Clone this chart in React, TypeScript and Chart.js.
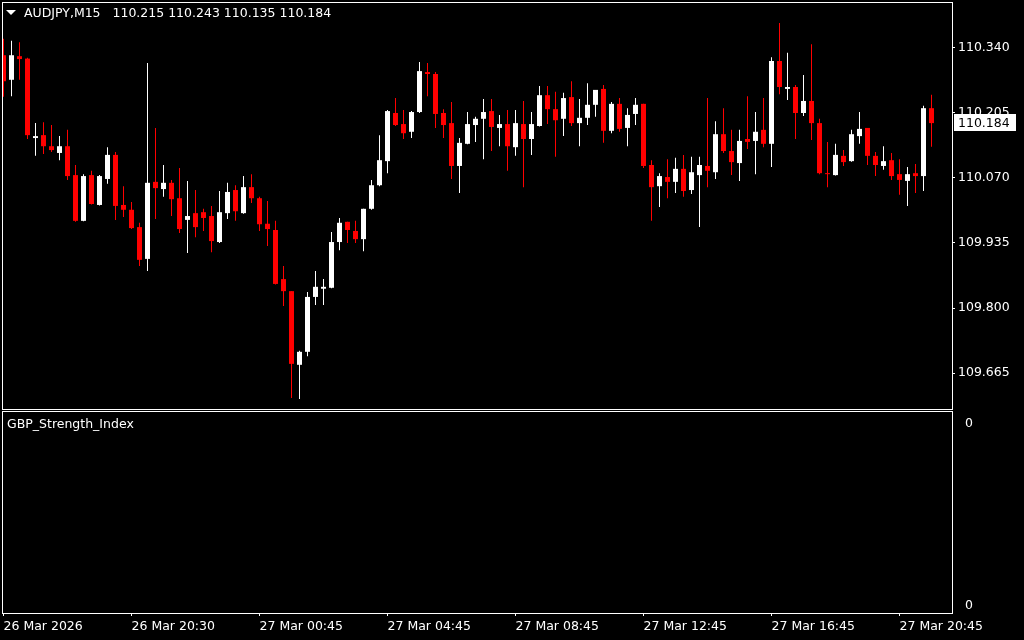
import React, { useEffect, useRef } from "react";
import { Chart, registerables } from "chart.js";

Chart.register(...registerables);

const symbolTitle = "AUDJPY,M15";
const indicatorName = "GBP_Strength_Index";

const opens = [
  110.325, 110.274, 110.323, 110.318, 110.153, 110.159, 110.136, 110.122, 110.136, 110.076,
  109.981, 110.076, 110.014, 110.068, 110.118, 110.014, 110.004, 109.968, 109.902, 110.062,
  110.047, 110.060, 110.028, 109.983, 109.997, 109.999, 109.991, 109.937, 109.997, 110.045,
  109.997, 110.051, 110.028, 109.975, 109.962, 109.860, 109.835, 109.682, 109.709, 109.823,
  109.840, 109.842, 109.937, 109.979, 109.960, 109.943, 110.006, 110.055, 110.105, 110.205,
  110.182, 110.166, 110.207, 110.290, 110.286, 110.205, 110.184, 110.095, 110.141, 110.180,
  110.193, 110.209, 110.174, 110.182, 110.134, 110.182, 110.151, 110.178, 110.242, 110.213,
  110.193, 110.238, 110.184, 110.195, 110.222, 110.255, 110.168, 110.224, 110.174, 110.203,
  110.224, 110.097, 110.053, 110.072, 110.062, 110.089, 110.045, 110.076, 110.095, 110.082,
  110.161, 110.126, 110.101, 110.151, 110.147, 110.170, 110.141, 110.313, 110.255, 110.259,
  110.205, 110.230, 110.184, 110.080, 110.076, 110.116, 110.105, 110.157, 110.174, 110.116,
  110.095, 110.107, 110.078, 110.064, 110.080, 110.074, 110.215,
];

const highs = [
  110.359, 110.355, 110.352, 110.320, 110.184, 110.186, 110.180, 110.157, 110.170, 110.097,
  110.078, 110.085, 110.076, 110.134, 110.124, 110.053, 110.020, 109.977, 110.309, 110.174,
  110.097, 110.066, 110.091, 110.064, 110.045, 110.006, 110.012, 110.043, 110.060, 110.055,
  110.074, 110.078, 110.031, 110.022, 109.981, 109.887, 109.835, 109.711, 109.833, 109.877,
  109.860, 109.958, 109.987, 109.979, 109.981, 110.006, 110.066, 110.159, 110.211, 110.236,
  110.211, 110.209, 110.311, 110.309, 110.290, 110.213, 110.228, 110.153, 110.207, 110.197,
  110.234, 110.234, 110.201, 110.211, 110.211, 110.230, 110.207, 110.261, 110.261, 110.249,
  110.247, 110.271, 110.234, 110.267, 110.253, 110.263, 110.228, 110.236, 110.215, 110.236,
  110.224, 110.107, 110.080, 110.109, 110.112, 110.118, 110.114, 110.114, 110.236, 110.188,
  110.215, 110.170, 110.170, 110.240, 110.207, 110.236, 110.321, 110.392, 110.330, 110.263,
  110.284, 110.348, 110.193, 110.145, 110.141, 110.128, 110.170, 110.207, 110.174, 110.124,
  110.136, 110.122, 110.109, 110.093, 110.099, 110.220, 110.243,
];

const lows = [
  110.239, 110.240, 110.274, 110.151, 110.116, 110.120, 110.124, 110.107, 110.066, 109.979,
  109.980, 110.015, 110.013, 110.058, 109.983, 109.989, 109.964, 109.887, 109.877, 109.985,
  110.031, 109.991, 109.956, 109.914, 109.947, 109.960, 109.916, 109.935, 109.985, 109.981,
  109.996, 110.018, 109.960, 109.929, 109.849, 109.804, 109.613, 109.611, 109.700, 109.806,
  109.806, 109.841, 109.920, 109.935, 109.935, 109.918, 110.004, 110.053, 110.080, 110.178,
  110.151, 110.153, 110.205, 110.240, 110.174, 110.153, 110.068, 110.039, 110.140, 110.145,
  110.109, 110.126, 110.136, 110.085, 110.116, 110.051, 110.118, 110.177, 110.182, 110.114,
  110.157, 110.178, 110.136, 110.180, 110.197, 110.143, 110.163, 110.166, 110.136, 110.180,
  110.091, 109.981, 110.010, 110.028, 110.039, 110.031, 110.037, 109.968, 110.051, 110.068,
  110.122, 110.076, 110.064, 110.130, 110.078, 110.134, 110.093, 110.244, 110.232, 110.151,
  110.199, 110.149, 110.078, 110.051, 110.075, 110.095, 110.104, 110.141, 110.097, 110.074,
  110.087, 110.066, 110.035, 110.012, 110.039, 110.043, 110.135,
];

const closes = [
  110.271, 110.325, 110.317, 110.159, 110.157, 110.136, 110.128, 110.136, 110.074, 109.981,
  110.074, 110.016, 110.074, 110.118, 110.012, 110.004, 109.966, 109.900, 110.060, 110.049,
  110.060, 110.026, 109.964, 109.991, 109.968, 109.987, 109.939, 109.999, 110.041, 110.001,
  110.051, 110.028, 109.974, 109.964, 109.850, 109.835, 109.684, 109.709, 109.823, 109.844,
  109.844, 109.937, 109.977, 109.962, 109.943, 110.006, 110.055, 110.107, 110.209, 110.180,
  110.163, 110.207, 110.292, 110.286, 110.203, 110.180, 110.095, 110.143, 110.182, 110.193,
  110.207, 110.176, 110.182, 110.136, 110.184, 110.151, 110.182, 110.242, 110.213, 110.190,
  110.236, 110.184, 110.195, 110.222, 110.253, 110.168, 110.224, 110.172, 110.201, 110.222,
  110.095, 110.051, 110.074, 110.062, 110.089, 110.043, 110.082, 110.097, 110.085, 110.161,
  110.126, 110.103, 110.147, 110.145, 110.166, 110.141, 110.313, 110.259, 110.259, 110.205,
  110.230, 110.184, 110.080, 110.078, 110.118, 110.103, 110.161, 110.172, 110.116, 110.097,
  110.105, 110.074, 110.066, 110.078, 110.074, 110.215, 110.184,
];

const priceTicks = [110.34, 110.205, 110.07, 109.935, 109.8, 109.665];
const timeTickIndex = [0, 16, 32, 48, 64, 80, 96, 112];
const timeTickLabels = [
  "26 Mar 2026",
  "26 Mar 20:30",
  "27 Mar 00:45",
  "27 Mar 04:45",
  "27 Mar 08:45",
  "27 Mar 12:45",
  "27 Mar 16:45",
  "27 Mar 20:45",
];
const indicatorTickLabels = ["0", "0"];

// view / style settings
const BULL = "#ffffff";
const BEAR = "#ff0000";
const FONT_FAMILY = '"DejaVu Sans", Verdana, sans-serif';
const FONT_SIZE = 12.5;
const X_MIN = -0.1875;
const X_MAX = 118.5625;
const Y_MIN = 109.590231;
const Y_MAX = 110.435538;
const SUB_TICK_POS = [0.9356, 0.0347];

const framePlugin = {
  id: "frame",
  afterDraw(chart: any) {
    const { ctx, chartArea: a } = chart;
    ctx.save();
    ctx.strokeStyle = "#ffffff";
    ctx.lineWidth = 1;
    ctx.strokeRect(a.left + 0.5, a.top + 0.5, a.right - a.left, a.bottom - a.top);
    ctx.restore();
  },
};

const lastPricePlugin = {
  id: "lastPrice",
  afterDraw(chart: any) {
    const { ctx } = chart;
    const last = closes[closes.length - 1];
    const y = Math.round(chart.scales.y.getPixelForValue(last));
    const x0 = chart.chartArea.right + 2;
    ctx.save();
    ctx.fillStyle = "#ffffff";
    ctx.fillRect(x0, y - 9, 62, 17);
    ctx.fillStyle = "#000000";
    ctx.font = `${FONT_SIZE}px ${FONT_FAMILY}`;
    ctx.textBaseline = "middle";
    ctx.textAlign = "left";
    ctx.fillText(last.toFixed(3), x0 + 4, y + 0.5);
    ctx.restore();
  },
};

export default function App() {
  const mainRef = useRef<HTMLCanvasElement>(null);
  const subRef = useRef<HTMLCanvasElement>(null);

  useEffect(() => {
    const idx = closes.map((_, i) => i);
    const colors = idx.map((i) => (closes[i] >= opens[i] ? BULL : BEAR));
    const font = { family: FONT_FAMILY, size: FONT_SIZE };

    const main = new Chart(mainRef.current as HTMLCanvasElement, {
      type: "bar",
      data: {
        datasets: [
          {
            label: "wick",
            data: idx.map((i) => ({ x: i, y: [lows[i], highs[i]] })) as any,
            backgroundColor: colors,
            barThickness: 1,
            grouped: false,
            inflateAmount: 0,
            borderWidth: 0,
            order: 2,
            clip: 0,
          } as any,
          {
            label: "body",
            data: idx.map((i) => ({ x: i, y: [opens[i], closes[i]] })) as any,
            backgroundColor: colors,
            barThickness: 5,
            minBarLength: 1,
            grouped: false,
            inflateAmount: 0,
            borderWidth: 0,
            order: 1,
            clip: 0,
          } as any,
        ],
      },
      options: {
        animation: false,
        responsive: false,
        maintainAspectRatio: false,
        devicePixelRatio: 1,
        layout: { padding: { left: 2, top: 2, right: 0, bottom: 2 } },
        plugins: { legend: { display: false }, tooltip: { enabled: false } },
        scales: {
          x: {
            type: "linear",
            display: false,
            min: X_MIN,
            max: X_MAX,
            offset: false,
          },
          y: {
            type: "linear",
            position: "right",
            min: Y_MIN,
            max: Y_MAX,
            beginAtZero: false,
            afterBuildTicks: (s: any) => {
              s.ticks = priceTicks.map((v) => ({ value: v }));
            },
            afterFit: (s: any) => {
              s.width = 72;
              s.paddingTop = 0;
              s.paddingBottom = 0;
            },
            grid: { drawOnChartArea: false, drawTicks: true, tickLength: 3, color: "#ffffff" },
            border: { display: false },
            ticks: {
              color: "#ffffff",
              font,
              padding: 3,
              autoSkip: false,
              callback: (v: any) => Number(v).toFixed(3),
            },
          },
        } as any,
      },
      plugins: [framePlugin, lastPricePlugin],
    });

    const sub = new Chart(subRef.current as HTMLCanvasElement, {
      type: "line",
      data: { datasets: [{ label: indicatorName, data: [], borderColor: "#ffffff" }] },
      options: {
        animation: false,
        responsive: false,
        maintainAspectRatio: false,
        devicePixelRatio: 1,
        layout: { padding: { left: 2, top: 0, right: 0, bottom: 0 } },
        plugins: { legend: { display: false }, tooltip: { enabled: false } },
        scales: {
          x: {
            type: "linear",
            position: "bottom",
            min: X_MIN,
            max: X_MAX,
            offset: false,
            afterBuildTicks: (s: any) => {
              s.ticks = timeTickIndex.map((v) => ({ value: v }));
            },
            afterFit: (s: any) => {
              s.height = 27;
              s.paddingLeft = 0;
              s.paddingRight = 0;
            },
            grid: { drawOnChartArea: false, drawTicks: true, tickLength: 3, color: "#ffffff" },
            border: { display: false },
            ticks: {
              color: "#ffffff",
              font,
              padding: 3,
              autoSkip: false,
              maxRotation: 0,
              minRotation: 0,
              align: "start",
              callback: (_v: any, i: number) => timeTickLabels[i],
            },
          },
          y: {
            type: "linear",
            position: "right",
            min: 0,
            max: 1,
            afterBuildTicks: (s: any) => {
              s.ticks = SUB_TICK_POS.map((v) => ({ value: v }));
            },
            afterFit: (s: any) => {
              s.width = 72;
              s.paddingTop = 0;
              s.paddingBottom = 0;
            },
            grid: { display: false },
            border: { display: false },
            ticks: {
              color: "#ffffff",
              font,
              padding: 5,
              autoSkip: false,
              callback: (_v: any, i: number) => indicatorTickLabels[i],
            },
          },
        } as any,
      },
      plugins: [framePlugin],
    });

    return () => {
      main.destroy();
      sub.destroy();
    };
  }, []);

  const last = closes.length - 1;
  const headerValues = [opens[last], highs[last], lows[last], closes[last]]
    .map((v) => v.toFixed(3))
    .join(" ");

  const textStyle: React.CSSProperties = {
    position: "absolute",
    color: "#ffffff",
    fontFamily: FONT_FAMILY,
    fontSize: FONT_SIZE,
    lineHeight: "14px",
    whiteSpace: "pre",
  };

  return (
    <div
      style={{
        position: "fixed",
        left: 0,
        top: 0,
        width: 1024,
        height: 640,
        background: "#000000",
        overflow: "hidden",
      }}
    >
      <canvas
        ref={mainRef}
        width={1024}
        height={411}
        style={{ position: "absolute", left: 0, top: 0 }}
      />
      <canvas
        ref={subRef}
        width={1024}
        height={229}
        style={{ position: "absolute", left: 0, top: 411 }}
      />
      <div
        style={{
          position: "absolute",
          left: 6,
          top: 10,
          width: 0,
          height: 0,
          borderLeft: "5px solid transparent",
          borderRight: "5px solid transparent",
          borderTop: "5px solid #ffffff",
        }}
      />
      <div style={{ ...textStyle, left: 24, top: 6 }}>
        {symbolTitle + "   " + headerValues}
      </div>
      <div style={{ ...textStyle, left: 7, top: 417 }}>{indicatorName}</div>
    </div>
  );
}
